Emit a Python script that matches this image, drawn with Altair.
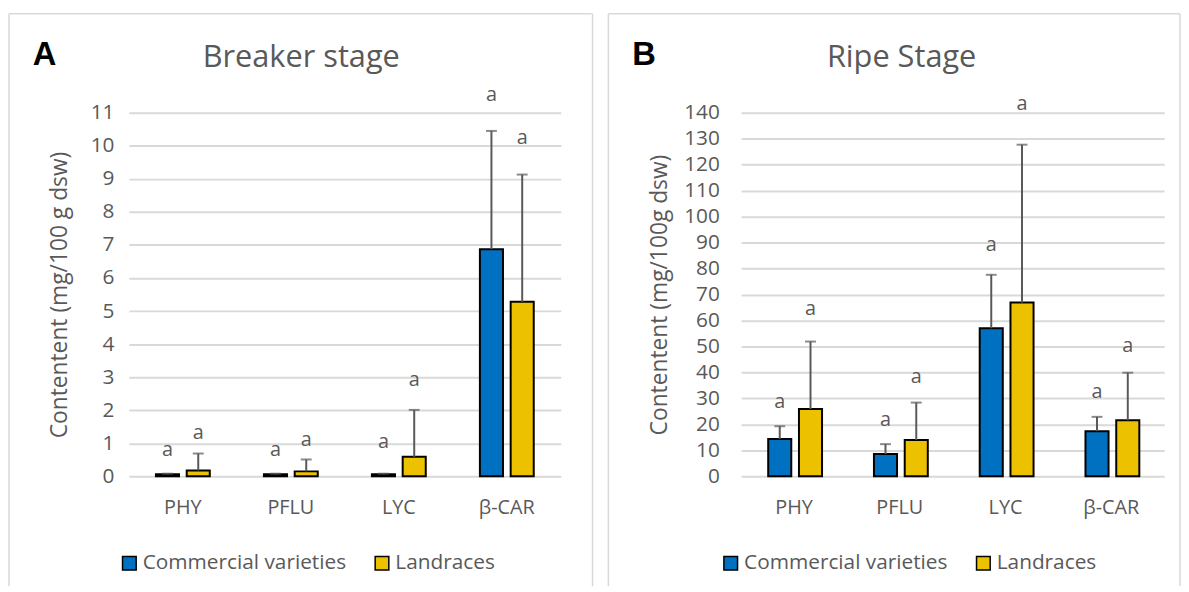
import altair as alt
import pandas as pd

categories = ["PHY", "PFLU", "LYC", "β-CAR"]
groups = ["Commercial varieties", "Landraces"]

# Breaker stage (mg/100 g dsw)
br_comm_mean = [0.06, 0.06, 0.06, 6.87]
br_comm_sd = [0.02, 0.02, 0.02, 3.58]
br_land_mean = [0.18, 0.15, 0.59, 5.28]
br_land_sd = [0.51, 0.36, 1.42, 3.85]
br_comm_sig = ["a", "a", "a", "a"]
br_land_sig = ["a", "a", "a", "a"]
br_comm_sig_y = [0.81, 0.81, 1.04, 11.54]
br_land_sig_y = [1.32, 1.10, 2.90, 10.24]

# Ripe stage (mg/100g dsw)
rp_comm_mean = [14.4, 8.6, 57.0, 17.4]
rp_comm_sd = [4.9, 3.8, 20.6, 5.5]
rp_land_mean = [25.9, 14.0, 66.9, 21.6]
rp_land_sd = [26.0, 14.4, 60.8, 18.3]
rp_comm_sig = ["a", "a", "a", "a"]
rp_land_sig = ["a", "a", "a", "a"]
rp_comm_sig_y = [28.6, 21.6, 89.1, 32.4]
rp_land_sig_y = [64.4, 38.1, 143.2, 50.2]

FONT = "Open Sans"
TXT = "#595959"
BLUE = "#0070C0"
GOLD = "#EBC100"
FRAME = "#D9D9D9"


def build(cm, cs, csig, csy, lm, ls, lsig, lsy):
    rows = []
    for i, c in enumerate(categories):
        rows.append(dict(cat=c, grp=groups[0], mean=cm[i], top=cm[i] + cs[i], sig=csig[i], sigy=csy[i]))
        rows.append(dict(cat=c, grp=groups[1], mean=lm[i], top=lm[i] + ls[i], sig=lsig[i], sigy=lsy[i]))
    return pd.DataFrame(rows)


def panel(df, ymax, ystep, title, letter, ytitle, W, H, frame, title_x, letter_x,
          ytitle_x, label_pad, legend_x):
    xenc = dict(
        field="cat", type="nominal", sort=categories,
        scale=alt.Scale(paddingInner=0, paddingOuter=0),
        axis=alt.Axis(title=None, labelAngle=0, labelFontSize=20, labelColor=TXT,
                      labelFont=FONT, labelPadding=22, domain=False, ticks=False,
                      tickSize=0, grid=False),
    )
    xo = alt.XOffset("grp:N", sort=groups,
                     scale=alt.Scale(paddingInner=0.25, paddingOuter=0.88))
    yaxis = alt.Axis(values=list(range(0, ymax + 1, ystep)), title=ytitle,
                     titleFontSize=23, titleFont=FONT, titleColor=TXT,
                     titleFontWeight="normal", titleX=ytitle_x, titleY=H / 2,
                     titleAngle=-90, titleAlign="center", titleBaseline="middle",
                     labelFontSize=21, labelFont=FONT, labelColor=TXT,
                     labelPadding=label_pad, domain=False, ticks=False, tickSize=0,
                     grid=True, gridColor="#D9D9D9", gridWidth=2)
    yscale = alt.Scale(domain=[0, ymax], nice=False, zero=True)

    base = alt.Chart(df)
    bars = base.mark_bar(stroke="black", strokeWidth=2).encode(
        x=alt.X(**xenc), xOffset=xo,
        y=alt.Y("mean:Q", scale=yscale, axis=yaxis),
        color=alt.Color("grp:N", sort=groups,
                        scale=alt.Scale(domain=groups, range=[BLUE, GOLD]),
                        legend=alt.Legend(title=None, orient="none", direction="horizontal",
                                          legendX=legend_x, legendY=444,
                                          symbolType="square", symbolSize=190,
                                          symbolStrokeColor="black", symbolStrokeWidth=1.5,
                                          symbolOpacity=1, labelFontSize=21, labelFont=FONT,
                                          labelColor=TXT, labelOffset=3, columnPadding=25,
                                          labelLimit=400, padding=0)),
    )
    err = base.mark_rule(color=TXT, strokeWidth=2).encode(
        x=alt.X(**xenc), xOffset=xo,
        y=alt.Y("mean:Q", scale=yscale, axis=yaxis), y2="top:Q",
    )
    cap = base.mark_tick(color=TXT, thickness=2, size=11).encode(
        x=alt.X(**xenc), xOffset=xo,
        y=alt.Y("top:Q", scale=yscale, axis=yaxis),
    )
    sig = base.mark_text(font=FONT, fontSize=20, color=TXT, baseline="middle").encode(
        x=alt.X(**xenc), xOffset=xo,
        y=alt.Y("sigy:Q", scale=yscale, axis=yaxis),
        text="sig:N",
    )

    fx0, fx1, fy0, fy1 = frame
    one = pd.DataFrame({"t": [title], "l": [letter]})
    dec = alt.Chart(one)
    f_top = dec.mark_rule(color=FRAME, strokeWidth=1.5).encode(
        x=alt.value(fx0), x2=alt.value(fx1), y=alt.value(fy0))
    f_left = dec.mark_rule(color=FRAME, strokeWidth=1.5).encode(
        x=alt.value(fx0), y=alt.value(fy0), y2=alt.value(fy1))
    f_right = dec.mark_rule(color=FRAME, strokeWidth=1.5).encode(
        x=alt.value(fx1), y=alt.value(fy0), y2=alt.value(fy1))
    ttl = dec.mark_text(font=FONT, fontSize=31, color=TXT, baseline="middle",
                        align="center").encode(
        x=alt.value(title_x), y=alt.value(-55), text="t:N")
    let = dec.mark_text(font="Liberation Sans", fontSize=33, fontWeight="bold",
                        color="black", baseline="middle", align="left").encode(
        x=alt.value(letter_x), y=alt.value(-58), text="l:N")

    return alt.layer(bars, err, cap, sig, f_top, f_left, f_right, ttl, let).properties(
        width=W, height=H)


df_b = build(br_comm_mean, br_comm_sd, br_comm_sig, br_comm_sig_y,
             br_land_mean, br_land_sd, br_land_sig, br_land_sig_y)
df_r = build(rp_comm_mean, rp_comm_sd, rp_comm_sig, rp_comm_sig_y,
             rp_land_mean, rp_land_sd, rp_land_sig, rp_land_sig_y)

left = panel(df_b, 11, 1, "Breaker stage", "A", "Contentent (mg/100 g dsw)",
             436, 367, (-121, 468, -100, 478), 174, -97, -70, 15, -10)
right = panel(df_r, 140, 10, "Ripe Stage", "B", "Contentent (mg/100g dsw)",
              427, 367, (-134, 443, -100, 478), 162, -110, -82, 22, -21)

chart = alt.hconcat(left, right, spacing=14).resolve_scale(
    color="independent").resolve_legend(color="independent").properties(
    padding={"left": 0, "top": 2, "right": 0, "bottom": 0}
).configure_view(stroke=None)

chart.save("out.html", embed_options={"renderer": "svg", "actions": False})
